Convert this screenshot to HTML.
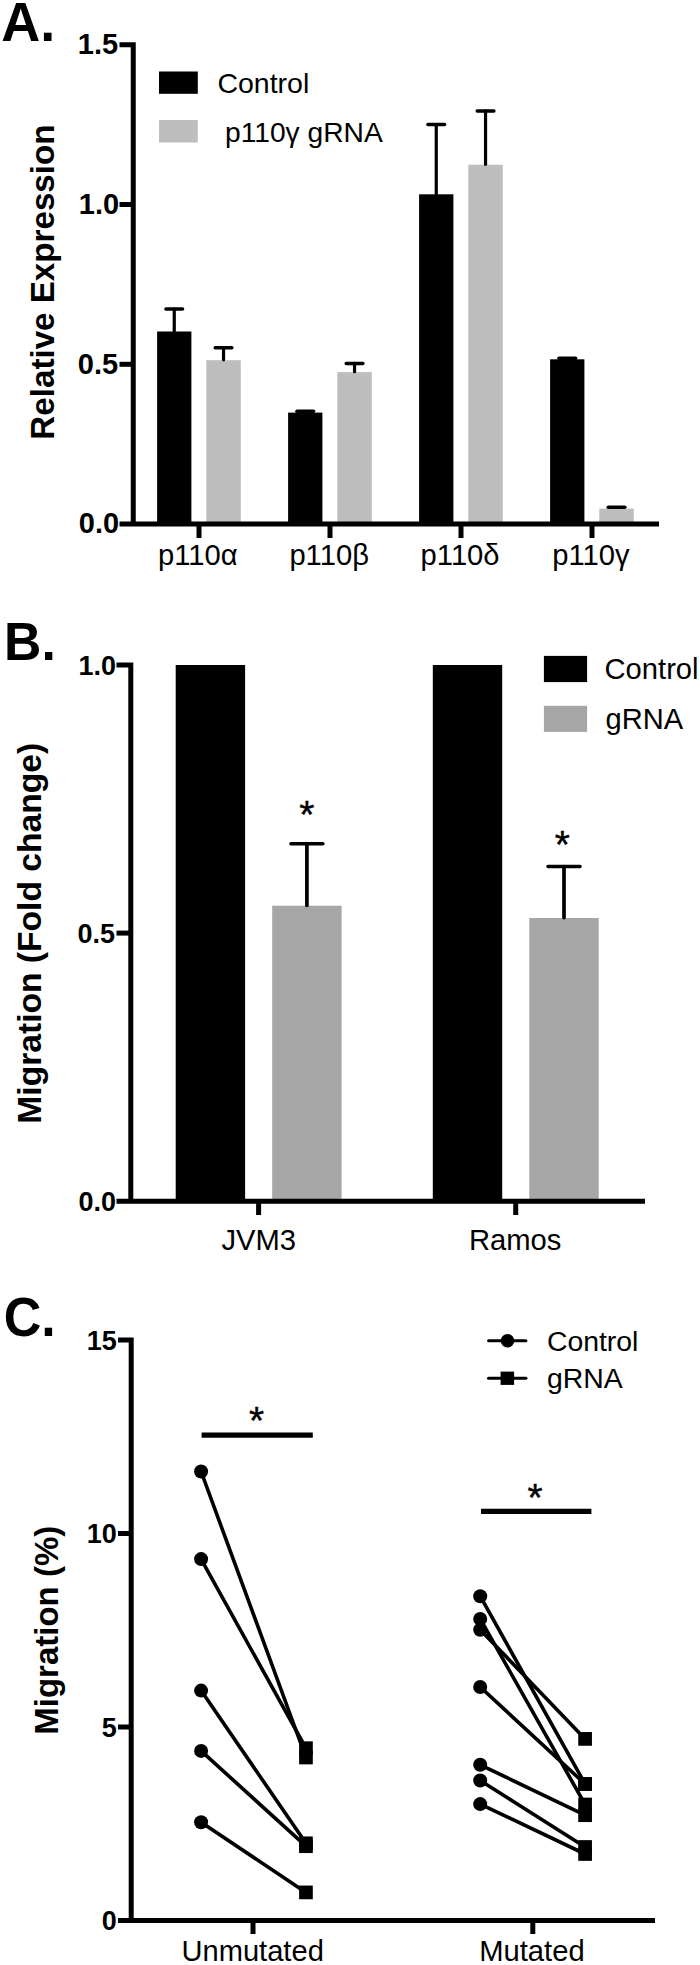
<!DOCTYPE html>
<html><head><meta charset="utf-8"><title>Figure</title>
<style>
html,body{margin:0;padding:0;background:#fff;}
svg{display:block;}
svg text{font-family:"Liberation Sans", Arial, Helvetica, sans-serif;fill:#000;}
</style></head>
<body>
<svg width="700" height="1965" viewBox="0 0 700 1965">
<rect width="700" height="1965" fill="#fff"/>
<rect x="157.10" y="331.50" width="34.30" height="192.60" fill="#000"/>
<rect x="206.30" y="360.20" width="34.50" height="163.90" fill="#bebebe"/>
<line x1="174.25" y1="331.10" x2="174.25" y2="309.00" stroke="#000" stroke-width="3.2" stroke-linecap="round"/>
<line x1="165.95" y1="309.00" x2="182.55" y2="309.00" stroke="#000" stroke-width="3.5" stroke-linecap="round"/>
<line x1="223.55" y1="359.80" x2="223.55" y2="347.80" stroke="#000" stroke-width="3.2" stroke-linecap="round"/>
<line x1="215.25" y1="347.80" x2="231.85" y2="347.80" stroke="#000" stroke-width="3.5" stroke-linecap="round"/>
<rect x="288.10" y="412.60" width="34.30" height="111.50" fill="#000"/>
<rect x="337.30" y="372.10" width="34.50" height="152.00" fill="#bebebe"/>
<line x1="296.95" y1="411.20" x2="313.55" y2="411.20" stroke="#000" stroke-width="3.5" stroke-linecap="round"/>
<line x1="354.55" y1="371.70" x2="354.55" y2="363.40" stroke="#000" stroke-width="3.2" stroke-linecap="round"/>
<line x1="346.25" y1="363.40" x2="362.85" y2="363.40" stroke="#000" stroke-width="3.5" stroke-linecap="round"/>
<rect x="419.10" y="194.30" width="34.30" height="329.80" fill="#000"/>
<rect x="468.30" y="164.70" width="34.50" height="359.40" fill="#bebebe"/>
<line x1="436.25" y1="193.90" x2="436.25" y2="124.60" stroke="#000" stroke-width="3.2" stroke-linecap="round"/>
<line x1="427.95" y1="124.60" x2="444.55" y2="124.60" stroke="#000" stroke-width="3.5" stroke-linecap="round"/>
<line x1="485.55" y1="164.30" x2="485.55" y2="110.90" stroke="#000" stroke-width="3.2" stroke-linecap="round"/>
<line x1="477.25" y1="110.90" x2="493.85" y2="110.90" stroke="#000" stroke-width="3.5" stroke-linecap="round"/>
<rect x="550.10" y="359.30" width="34.30" height="164.80" fill="#000"/>
<rect x="599.30" y="508.60" width="34.50" height="15.50" fill="#bebebe"/>
<line x1="558.95" y1="358.20" x2="575.55" y2="358.20" stroke="#000" stroke-width="3.5" stroke-linecap="round"/>
<line x1="608.25" y1="507.20" x2="624.85" y2="507.20" stroke="#000" stroke-width="3.5" stroke-linecap="round"/>
<path d="M119.5,44.70 H133.25 V524.10" fill="none" stroke="#000" stroke-width="5.0" stroke-linejoin="miter" stroke-linecap="butt"/>
<line x1="119.50" y1="364.30" x2="133.25" y2="364.30" stroke="#000" stroke-width="5.0" stroke-linecap="butt"/>
<line x1="119.50" y1="204.50" x2="133.25" y2="204.50" stroke="#000" stroke-width="5.0" stroke-linecap="butt"/>
<line x1="119.50" y1="524.10" x2="659.00" y2="524.10" stroke="#000" stroke-width="5.0" stroke-linecap="butt"/>
<line x1="199.00" y1="524.10" x2="199.00" y2="538.00" stroke="#000" stroke-width="5.0" stroke-linecap="butt"/>
<line x1="330.00" y1="524.10" x2="330.00" y2="538.00" stroke="#000" stroke-width="5.0" stroke-linecap="butt"/>
<line x1="461.00" y1="524.10" x2="461.00" y2="538.00" stroke="#000" stroke-width="5.0" stroke-linecap="butt"/>
<line x1="592.00" y1="524.10" x2="592.00" y2="538.00" stroke="#000" stroke-width="5.0" stroke-linecap="butt"/>
<text transform="translate(1.30,40.70) scale(1,1.015)" font-size="54.06" font-weight="bold">A.</text>
<text transform="translate(77.80,54.10) scale(1,1.03)" font-size="29" font-weight="bold">1.5</text>
<text transform="translate(78.80,213.90) scale(1,1.03)" font-size="29" font-weight="bold">1.0</text>
<text transform="translate(77.80,373.70) scale(1,1.03)" font-size="29" font-weight="bold">0.5</text>
<text transform="translate(78.80,533.40) scale(1,1.03)" font-size="29" font-weight="bold">0.0</text>
<text x="158.00" y="565.30" font-size="29.2" font-weight="normal">p110α</text>
<text x="289.40" y="565.30" font-size="29.2" font-weight="normal">p110β</text>
<text x="420.60" y="565.30" font-size="29.2" font-weight="normal">p110δ</text>
<text x="552.30" y="565.30" font-size="29.2" font-weight="normal">p110γ</text>
<text x="217.40" y="92.90" font-size="28.5" font-weight="normal">Control</text>
<text x="225.00" y="141.80" font-size="28.2" font-weight="normal">p110γ gRNA</text>
<text transform="translate(54.30,439.65) rotate(-90)" font-size="33.17" font-weight="bold">Relative Expression</text>
<rect x="159.00" y="71.50" width="38.80" height="22.30" fill="#000"/>
<rect x="159.00" y="120.00" width="38.80" height="22.50" fill="#bebebe"/>
<rect x="175.70" y="665.00" width="69.40" height="536.20" fill="#000"/>
<rect x="272.20" y="905.70" width="69.40" height="295.50" fill="#a6a6a6"/>
<line x1="306.90" y1="905.30" x2="306.90" y2="843.70" stroke="#000" stroke-width="3.7" stroke-linecap="round"/>
<line x1="290.90" y1="843.70" x2="322.90" y2="843.70" stroke="#000" stroke-width="3.5" stroke-linecap="round"/>
<rect x="432.80" y="665.00" width="69.40" height="536.20" fill="#000"/>
<rect x="529.30" y="918.00" width="69.40" height="283.20" fill="#a6a6a6"/>
<line x1="564.00" y1="917.60" x2="564.00" y2="866.50" stroke="#000" stroke-width="3.7" stroke-linecap="round"/>
<line x1="548.00" y1="866.50" x2="580.00" y2="866.50" stroke="#000" stroke-width="3.5" stroke-linecap="round"/>
<path d="M116.5,665.00 H130.80 V1201.20" fill="none" stroke="#000" stroke-width="5.0" stroke-linejoin="miter" stroke-linecap="butt"/>
<line x1="116.50" y1="933.10" x2="130.80" y2="933.10" stroke="#000" stroke-width="5.0" stroke-linecap="butt"/>
<line x1="116.50" y1="1201.20" x2="645.00" y2="1201.20" stroke="#000" stroke-width="5.0" stroke-linecap="butt"/>
<line x1="258.60" y1="1201.20" x2="258.60" y2="1215.00" stroke="#000" stroke-width="5.0" stroke-linecap="butt"/>
<line x1="515.70" y1="1201.20" x2="515.70" y2="1215.00" stroke="#000" stroke-width="5.0" stroke-linecap="butt"/>
<rect x="543.90" y="655.90" width="43.20" height="26.20" fill="#000"/>
<rect x="543.90" y="705.80" width="43.20" height="26.10" fill="#a6a6a6"/>
<text transform="translate(4.00,660.40) scale(1,1.045)" font-size="51.77" font-weight="bold">B.</text>
<text transform="translate(78.60,674.50) scale(1,1.025)" font-size="27" font-weight="bold">1.0</text>
<text transform="translate(77.60,942.60) scale(1,1.025)" font-size="27" font-weight="bold">0.5</text>
<text transform="translate(78.60,1210.70) scale(1,1.025)" font-size="27" font-weight="bold">0.0</text>
<text x="221.40" y="1250.40" font-size="29.2" font-weight="normal">JVM3</text>
<text x="468.90" y="1250.20" font-size="29.2" font-weight="normal">Ramos</text>
<text x="604.50" y="679.10" font-size="29.2" font-weight="normal">Control</text>
<text x="605.50" y="728.60" font-size="29.1" font-weight="normal">gRNA</text>
<text x="299.30" y="828.38" font-size="39" font-weight="normal" stroke="#000" stroke-width="0.4">*</text>
<text x="554.75" y="858.00" font-size="39" font-weight="normal" stroke="#000" stroke-width="0.4">*</text>
<text transform="translate(41.40,1123.70) rotate(-90)" font-size="33.62" font-weight="bold">Migration (Fold change)</text>
<line x1="201.10" y1="1471.50" x2="305.95" y2="1757.50" stroke="#000" stroke-width="3.6" stroke-linecap="round"/>
<line x1="201.10" y1="1559.10" x2="305.95" y2="1748.20" stroke="#000" stroke-width="3.6" stroke-linecap="round"/>
<line x1="201.10" y1="1690.60" x2="305.95" y2="1843.30" stroke="#000" stroke-width="3.6" stroke-linecap="round"/>
<line x1="201.10" y1="1750.90" x2="305.95" y2="1846.20" stroke="#000" stroke-width="3.6" stroke-linecap="round"/>
<line x1="201.10" y1="1822.30" x2="305.95" y2="1892.40" stroke="#000" stroke-width="3.6" stroke-linecap="round"/>
<circle cx="201.10" cy="1471.50" r="7"/>
<rect x="299.10" y="1750.65" width="13.70" height="13.70" fill="#000"/>
<circle cx="201.10" cy="1559.10" r="7"/>
<rect x="299.10" y="1741.35" width="13.70" height="13.70" fill="#000"/>
<circle cx="201.10" cy="1690.60" r="7"/>
<rect x="299.10" y="1836.45" width="13.70" height="13.70" fill="#000"/>
<circle cx="201.10" cy="1750.90" r="7"/>
<rect x="299.10" y="1839.35" width="13.70" height="13.70" fill="#000"/>
<circle cx="201.10" cy="1822.30" r="7"/>
<rect x="299.10" y="1885.55" width="13.70" height="13.70" fill="#000"/>
<line x1="480.20" y1="1596.20" x2="585.10" y2="1784.00" stroke="#000" stroke-width="3.6" stroke-linecap="round"/>
<line x1="480.20" y1="1618.90" x2="585.10" y2="1804.50" stroke="#000" stroke-width="3.6" stroke-linecap="round"/>
<line x1="480.20" y1="1629.70" x2="585.10" y2="1738.90" stroke="#000" stroke-width="3.6" stroke-linecap="round"/>
<line x1="480.20" y1="1687.00" x2="585.10" y2="1784.00" stroke="#000" stroke-width="3.6" stroke-linecap="round"/>
<line x1="480.20" y1="1764.80" x2="585.10" y2="1815.20" stroke="#000" stroke-width="3.6" stroke-linecap="round"/>
<line x1="480.20" y1="1780.50" x2="585.10" y2="1847.00" stroke="#000" stroke-width="3.6" stroke-linecap="round"/>
<line x1="480.20" y1="1804.10" x2="585.10" y2="1854.00" stroke="#000" stroke-width="3.6" stroke-linecap="round"/>
<circle cx="480.20" cy="1596.20" r="7"/>
<rect x="578.25" y="1777.15" width="13.70" height="13.70" fill="#000"/>
<circle cx="480.20" cy="1618.90" r="7"/>
<rect x="578.25" y="1797.65" width="13.70" height="13.70" fill="#000"/>
<circle cx="480.20" cy="1629.70" r="7"/>
<rect x="578.25" y="1732.05" width="13.70" height="13.70" fill="#000"/>
<circle cx="480.20" cy="1687.00" r="7"/>
<rect x="578.25" y="1777.15" width="13.70" height="13.70" fill="#000"/>
<circle cx="480.20" cy="1764.80" r="7"/>
<rect x="578.25" y="1808.35" width="13.70" height="13.70" fill="#000"/>
<circle cx="480.20" cy="1780.50" r="7"/>
<rect x="578.25" y="1840.15" width="13.70" height="13.70" fill="#000"/>
<circle cx="480.20" cy="1804.10" r="7"/>
<rect x="578.25" y="1847.15" width="13.70" height="13.70" fill="#000"/>
<path d="M118,1340.00 H131.20 V1920.50" fill="none" stroke="#000" stroke-width="5.0" stroke-linejoin="miter" stroke-linecap="butt"/>
<line x1="118.00" y1="1727.00" x2="131.20" y2="1727.00" stroke="#000" stroke-width="5.0" stroke-linecap="butt"/>
<line x1="118.00" y1="1533.50" x2="131.20" y2="1533.50" stroke="#000" stroke-width="5.0" stroke-linecap="butt"/>
<line x1="118.00" y1="1920.50" x2="655.00" y2="1920.50" stroke="#000" stroke-width="5.0" stroke-linecap="butt"/>
<line x1="253.00" y1="1920.50" x2="253.00" y2="1934.00" stroke="#000" stroke-width="5.0" stroke-linecap="butt"/>
<line x1="532.80" y1="1920.50" x2="532.80" y2="1934.00" stroke="#000" stroke-width="5.0" stroke-linecap="butt"/>
<line x1="201.60" y1="1435.10" x2="312.80" y2="1435.10" stroke="#000" stroke-width="5.2" stroke-linecap="butt"/>
<line x1="481.00" y1="1511.40" x2="591.40" y2="1511.40" stroke="#000" stroke-width="5.2" stroke-linecap="butt"/>
<line x1="488.6" y1="1340.8" x2="525.9" y2="1340.8" stroke="#000" stroke-width="3.1" stroke-linecap="round"/>
<circle cx="507.5" cy="1340.8" r="6.8"/>
<line x1="488.6" y1="1378.2" x2="525.9" y2="1378.2" stroke="#000" stroke-width="3.1" stroke-linecap="round"/>
<rect x="500.60" y="1371.60" width="13.50" height="13.30" fill="#000"/>
<text transform="translate(3.80,1336.20) scale(1,1.055)" font-size="52.0" font-weight="bold">C.</text>
<text transform="translate(86.70,1349.60) scale(1,1.025)" font-size="27" font-weight="bold">15</text>
<text transform="translate(86.70,1543.10) scale(1,1.025)" font-size="27" font-weight="bold">10</text>
<text transform="translate(101.70,1736.60) scale(1,1.025)" font-size="27" font-weight="bold">5</text>
<text transform="translate(101.70,1930.10) scale(1,1.025)" font-size="27" font-weight="bold">0</text>
<text x="181.50" y="1960.80" font-size="29.1" font-weight="normal">Unmutated</text>
<text x="479.20" y="1960.70" font-size="29.2" font-weight="normal">Mutated</text>
<text x="546.90" y="1350.70" font-size="28.4" font-weight="normal">Control</text>
<text x="546.90" y="1387.50" font-size="28.4" font-weight="normal">gRNA</text>
<text x="248.95" y="1434.12" font-size="39" font-weight="normal" stroke="#000" stroke-width="0.4">*</text>
<text x="527.62" y="1511.00" font-size="39" font-weight="normal" stroke="#000" stroke-width="0.4">*</text>
<text transform="translate(58.00,1734.80) rotate(-90)" font-size="33.03" font-weight="bold">Migration (%)</text>
</svg>
</body></html>
